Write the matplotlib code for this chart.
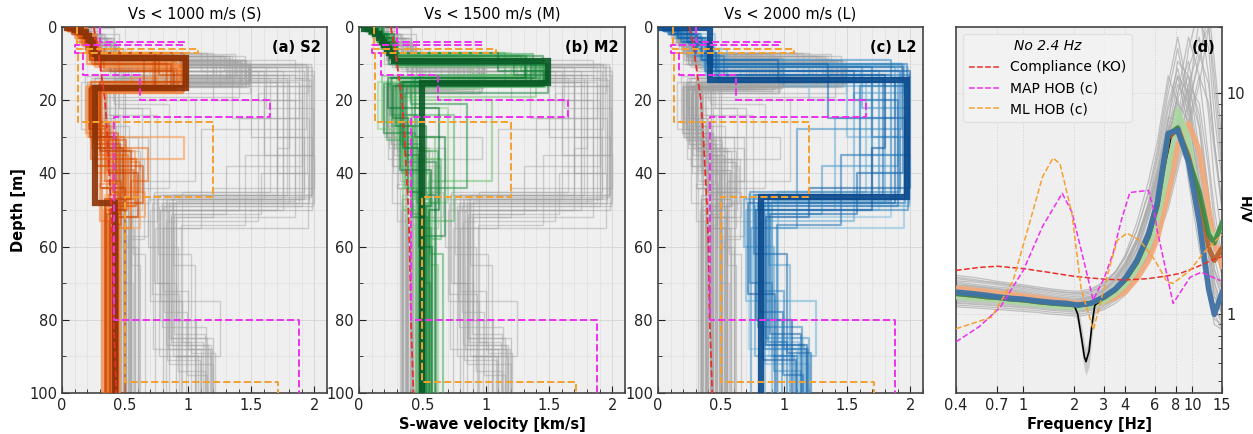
import numpy as np
import matplotlib
matplotlib.use("Agg")
import matplotlib.pyplot as plt
from matplotlib.ticker import MultipleLocator, FixedLocator, NullLocator, FixedFormatter, LogLocator, NullFormatter

# ---------------- DATA ----------------
# Vs profiles: layer top depths [m] and Vs [km/s] (last layer extends to 100 m)
S_best_tops = [0, 0.3, 0.8, 1.5, 2.5, 3.5, 4.5, 5.5, 6.5, 7.5, 8.5, 16.7, 48]
S_best_vs = [0.04, 0.10, 0.15, 0.19, 0.21, 0.23, 0.245, 0.255, 0.265, 0.275, 0.98, 0.26, 0.42]
S_tops = [
    [0, 2, 5, 9, 16, 32, 47], [0, 3, 7, 15, 28, 40, 52], [0, 1, 4, 10, 17, 35, 46],
    [0, 2, 6, 11, 16, 30, 44, 55], [0, 4, 8, 17, 33, 48], [0, 2, 7, 12, 18, 38, 50],
    [0, 3, 9, 15, 25, 42], [0, 1, 5, 10.5, 16, 30, 36, 47], [0, 2, 8, 14, 17, 26, 45, 52],
    [0, 3, 6, 9.5, 17.5, 34, 49], [0, 2, 5, 11, 16.5, 29, 40, 50], [0, 4, 9, 17, 37, 45],
    [0, 1, 3, 8, 16, 31, 43, 53], [0, 2, 7.5, 15.5, 27, 48], [0, 3, 10, 17, 33, 42, 55],
    [0, 2, 6, 12, 18, 35, 50], [0, 1, 4, 9, 17, 28, 39, 47], [0, 3, 8.5, 16, 30, 44],
    [0, 2, 7, 16, 29, 46], [0, 1, 5, 10, 17, 31, 50], [0, 3, 8, 15, 36, 49],
    [0, 2, 6, 11.5, 17, 27, 42, 54], [0, 4, 9, 16, 30, 45], [0, 1, 3, 7, 17.5, 38, 48],
    [0, 2, 8, 13, 16, 32, 51], [0, 3, 10, 17, 28, 44], [0, 2, 5, 9, 15, 34, 47],
    [0, 1, 6, 12, 16, 26, 40, 52], [0, 3, 7, 17, 33, 50], [0, 2, 9, 16.5, 30, 43]]
S_vs = [
    [0.10, 0.18, 0.24, 0.85, 0.25, 0.42, 0.36], [0.12, 0.20, 0.92, 0.22, 0.35, 0.55, 0.40],
    [0.06, 0.15, 0.22, 0.78, 0.28, 0.48, 0.34], [0.14, 0.22, 0.30, 0.98, 0.20, 0.30, 0.62, 0.42],
    [0.16, 0.26, 0.70, 0.30, 0.52, 0.45], [0.08, 0.19, 0.60, 0.95, 0.26, 0.40, 0.38],
    [0.18, 0.24, 0.88, 0.24, 0.32, 0.44], [0.05, 0.14, 0.25, 0.95, 0.21, 0.97, 0.36, 0.34],
    [0.11, 0.23, 0.80, 0.55, 0.28, 0.40, 0.66, 0.38], [0.15, 0.21, 0.28, 0.90, 0.32, 0.58, 0.41],
    [0.09, 0.17, 0.26, 0.99, 0.19, 0.27, 0.50, 0.33], [0.20, 0.30, 0.75, 0.35, 0.62, 0.46],
    [0.07, 0.16, 0.23, 0.97, 0.25, 0.45, 0.30, 0.37], [0.13, 0.25, 0.82, 0.29, 0.38, 0.43],
    [0.10, 0.20, 0.93, 0.24, 0.68, 0.55, 0.39], [0.17, 0.27, 0.45, 0.96, 0.30, 0.52, 0.35],
    [0.04, 0.12, 0.21, 0.72, 0.23, 0.36, 0.57, 0.40], [0.14, 0.22, 0.99, 0.26, 0.49, 0.32],
    [0.11, 0.21, 0.88, 0.27, 0.44, 0.37], [0.06, 0.16, 0.24, 0.83, 0.29, 0.51, 0.43],
    [0.16, 0.24, 0.94, 0.23, 0.59, 0.35], [0.12, 0.20, 0.33, 0.91, 0.22, 0.34, 0.47, 0.39],
    [0.19, 0.28, 0.65, 0.31, 0.40, 0.44], [0.05, 0.13, 0.22, 0.97, 0.27, 0.64, 0.41],
    [0.10, 0.23, 0.77, 0.99, 0.25, 0.46, 0.36], [0.14, 0.26, 0.86, 0.21, 0.31, 0.50],
    [0.08, 0.18, 0.27, 0.99, 0.30, 0.55, 0.34], [0.07, 0.19, 0.31, 0.89, 0.24, 0.37, 0.60, 0.44],
    [0.17, 0.25, 0.74, 0.28, 0.48, 0.38], [0.13, 0.22, 0.96, 0.22, 0.43, 0.42]]

M_best_tops = [0, 0.5, 1, 2, 3, 4, 5, 6, 7, 8, 9.3, 15.3]
M_best_vs = [0.04, 0.10, 0.13, 0.16, 0.18, 0.20, 0.22, 0.24, 0.26, 0.28, 1.49, 0.50]
M_tops = [
    [0, 2, 6, 9, 14, 30, 50], [0, 3, 8, 15, 25, 45], [0, 1, 5, 10, 16, 35, 60],
    [0, 2, 7, 13, 17, 40], [0, 4, 9.5, 15, 28, 55], [0, 2, 6, 8, 16, 22, 48],
    [0, 3, 10, 14.5, 33, 65], [0, 1, 4, 7.5, 13, 19, 38, 52], [0, 2, 8, 16, 30, 45],
    [0, 3, 9, 15.5, 20, 42], [0, 2, 5, 10, 13.5, 26, 50], [0, 4, 8.5, 14, 36, 58],
    [0, 1, 6, 11, 16.5, 29, 47], [0, 2, 7, 15, 24, 53], [0, 3, 9, 16, 31, 44],
    [0, 2, 8, 12, 15, 40, 62], [0, 1, 5, 9, 14, 27, 51], [0, 3, 7.5, 13, 34, 48],
    [0, 2, 7, 10, 15, 32, 55], [0, 3, 9, 14, 24, 48], [0, 1, 6, 9.5, 16, 37],
    [0, 2, 8, 15, 21, 44, 70], [0, 4, 10, 15.5, 29, 52], [0, 2, 5, 9, 13, 18, 35],
    [0, 3, 8, 16, 27, 46], [0, 1, 4, 10, 14, 30, 57], [0, 2, 9, 15, 39, 49],
    [0, 3, 7, 12, 16, 25, 45], [0, 2, 6, 10.5, 15, 33, 60], [0, 4, 9, 14, 22, 50]]
M_vs = [
    [0.10, 0.20, 0.28, 1.45, 0.30, 0.45, 0.55], [0.12, 0.25, 1.30, 0.20, 0.40, 0.50],
    [0.06, 0.16, 0.27, 1.48, 0.35, 0.52, 0.60], [0.15, 0.24, 1.20, 0.95, 0.42, 0.48],
    [0.18, 0.30, 1.42, 0.15, 0.38, 0.53], [0.08, 0.18, 0.26, 1.35, 0.45, 0.70, 0.47],
    [0.14, 0.27, 1.49, 0.30, 0.55, 0.62], [0.05, 0.14, 0.22, 0.90, 1.40, 0.33, 0.50, 0.45],
    [0.11, 0.23, 1.25, 0.28, 0.60, 0.50], [0.16, 0.29, 1.46, 0.40, 1.05, 0.55],
    [0.09, 0.19, 0.28, 1.38, 0.18, 0.35, 0.48], [0.20, 0.31, 1.33, 0.42, 0.65, 0.52],
    [0.07, 0.17, 0.29, 1.47, 0.31, 0.44, 0.58], [0.13, 0.26, 1.15, 0.37, 0.75, 0.51],
    [0.17, 0.28, 1.41, 0.22, 0.36, 0.46], [0.10, 0.24, 1.28, 1.49, 0.34, 0.56, 0.66],
    [0.06, 0.18, 0.30, 1.44, 0.26, 0.43, 0.50], [0.15, 0.27, 1.37, 0.48, 0.62, 0.54],
    [0.09, 0.21, 0.29, 1.47, 0.33, 0.50, 0.57], [0.15, 0.26, 1.39, 0.25, 0.46, 0.52],
    [0.05, 0.19, 0.27, 1.43, 0.38, 0.61], [0.12, 0.24, 1.32, 0.41, 0.85, 0.49, 0.56],
    [0.19, 0.30, 1.48, 0.20, 0.42, 0.54], [0.08, 0.17, 0.26, 1.22, 1.49, 0.36, 0.47],
    [0.14, 0.25, 1.45, 0.29, 0.53, 0.60], [0.06, 0.15, 0.24, 1.40, 0.44, 0.68, 0.51],
    [0.11, 0.28, 1.36, 0.32, 0.57, 0.53], [0.16, 0.27, 1.10, 1.46, 0.27, 0.39, 0.49],
    [0.10, 0.22, 0.30, 1.49, 0.35, 0.47, 0.58], [0.18, 0.29, 1.31, 0.23, 0.63, 0.55]]

L_best_tops = [0, 0.3, 14.5, 46.5]
L_best_vs = [0.02, 0.41, 1.97, 0.82]
L_tops = [
    [0, 3, 10, 47, 85], [0, 2, 8, 15, 50, 75], [0, 4, 12, 35, 48, 90],
    [0, 1, 5, 11, 46, 88], [0, 3, 9, 20, 52, 80], [0, 2, 13, 40, 55],
    [0, 5, 10, 30, 47, 70, 92], [0, 2, 7, 14, 45, 86], [0, 3, 11, 25, 50, 75, 90],
    [0, 1, 6, 15, 48], [0, 4, 10.5, 18, 53, 87], [0, 2, 9, 16, 46, 65],
    [0, 3, 12, 47, 60, 94], [0, 2, 8, 14, 38, 51, 85], [0, 5, 11, 22, 49, 90],
    [0, 1, 4, 13, 47.5, 80], [0, 3, 10, 28, 55], [0, 2, 7, 15, 46, 72, 88],
    [0, 2, 9, 14, 48, 82], [0, 3, 11, 30, 50, 88], [0, 1, 5, 12, 45, 70, 90],
    [0, 4, 10, 16, 47, 86], [0, 2, 8, 13, 35, 54], [0, 3, 12, 20, 49, 78, 95],
    [0, 2, 6, 14, 46, 62, 89], [0, 5, 11, 40, 51, 84], [0, 1, 4, 10, 25, 47, 91],
    [0, 3, 9, 15, 48, 73], [0, 2, 7, 12, 44, 52, 87], [0, 4, 13, 33, 50, 80]]
L_vs = [
    [0.15, 0.35, 1.90, 0.85, 1.15], [0.10, 0.28, 0.42, 1.75, 0.78, 0.95],
    [0.20, 0.38, 1.60, 2.00, 0.88, 1.18], [0.05, 0.22, 0.44, 1.98, 0.72, 1.10],
    [0.18, 0.30, 1.20, 1.85, 0.90, 1.05], [0.12, 0.45, 1.70, 1.95, 0.80],
    [0.25, 0.40, 1.50, 1.92, 0.75, 0.85, 1.20], [0.08, 0.26, 0.50, 1.65, 0.95, 1.12],
    [0.14, 0.36, 1.88, 1.40, 0.70, 1.25, 0.90], [0.06, 0.30, 0.55, 1.80, 0.85],
    [0.22, 0.42, 1.95, 1.55, 0.82, 1.16], [0.10, 0.33, 1.00, 1.97, 0.88, 1.05],
    [0.16, 0.39, 1.75, 0.68, 0.92, 1.13], [0.11, 0.27, 0.45, 1.90, 1.30, 0.86, 1.20],
    [0.28, 0.43, 1.62, 1.99, 0.77, 1.08], [0.04, 0.20, 0.38, 1.85, 0.90, 0.98],
    [0.19, 0.41, 1.93, 1.10, 0.74], [0.09, 0.31, 0.47, 1.70, 0.80, 1.00, 1.17],
    [0.12, 0.34, 1.85, 1.96, 0.79, 1.14], [0.17, 0.40, 1.70, 1.98, 0.84, 1.19],
    [0.06, 0.25, 0.43, 1.92, 0.73, 0.90, 1.10], [0.21, 0.39, 1.97, 1.60, 0.87, 1.02],
    [0.09, 0.29, 0.52, 1.99, 1.45, 0.94], [0.15, 0.37, 1.55, 1.90, 0.81, 0.99, 1.15],
    [0.10, 0.32, 0.48, 1.78, 0.76, 1.02, 1.21], [0.26, 0.44, 1.94, 1.58, 0.89, 1.13],
    [0.05, 0.18, 0.40, 1.35, 1.96, 0.83, 1.09], [0.16, 0.35, 0.95, 1.88, 0.71, 0.93],
    [0.11, 0.30, 0.46, 2.00, 1.20, 0.86, 1.18], [0.23, 0.42, 1.80, 1.70, 0.78, 1.06]]

# reference profiles (dashed)
KO_depth = [0, 5, 10, 15, 20, 30, 40, 50, 60, 80, 100]
KO_vs = [0.25, 0.28, 0.30, 0.32, 0.34, 0.36, 0.375, 0.39, 0.40, 0.41, 0.43]
MAP_tops = [0, 4, 5, 7, 13, 20, 24.5, 80]
MAP_vs = [0.30, 0.97, 0.10, 0.17, 0.62, 1.65, 0.41, 1.88]
ML_tops = [0, 6, 7, 26, 46.5, 97]
ML_vs = [0.12, 1.08, 0.13, 1.20, 0.50, 1.71]

# H/V curves
freq = [0.4, 0.5, 0.6, 0.7, 0.85, 1.0, 1.2, 1.5, 1.8, 2.1, 2.5, 3.0, 3.5, 4.0, 4.7, 5.5, 6.2, 7.2, 8.2, 9.5, 11, 12.5, 13.5, 15]
hv_gray = [
    [1.30, 1.28, 1.26, 1.24, 1.22, 1.20, 1.18, 1.16, 1.14, 1.13, 1.15, 1.22, 1.33, 1.50, 1.85, 2.5, 3.4, 5.5, 8.0, 6.5, 3.5, 1.8, 1.2, 1.1],
    [1.15, 1.13, 1.12, 1.11, 1.10, 1.09, 1.08, 1.06, 1.05, 1.04, 1.06, 1.12, 1.22, 1.36, 1.65, 2.1, 2.7, 4.0, 6.2, 10.5, 7.0, 3.5, 2.2, 1.5],
    [1.45, 1.42, 1.40, 1.38, 1.35, 1.33, 1.30, 1.27, 1.25, 1.24, 1.26, 1.35, 1.50, 1.72, 2.2, 3.2, 4.6, 8.5, 12.0, 7.0, 3.0, 1.6, 1.1, 0.9],
    [1.20, 1.18, 1.17, 1.16, 1.14, 1.12, 1.10, 1.08, 1.07, 1.06, 1.07, 1.12, 1.20, 1.30, 1.50, 1.85, 2.3, 3.2, 4.8, 7.5, 12.0, 9.0, 5.5, 3.0],
    [1.35, 1.33, 1.31, 1.29, 1.27, 1.25, 1.22, 1.19, 1.17, 1.16, 1.19, 1.28, 1.42, 1.65, 2.1, 3.0, 4.2, 7.0, 9.5, 5.5, 2.6, 1.4, 1.0, 0.85],
    [1.10, 1.09, 1.08, 1.07, 1.06, 1.05, 1.04, 1.02, 1.01, 1.00, 1.02, 1.07, 1.15, 1.26, 1.48, 1.85, 2.3, 3.3, 5.0, 8.5, 15.0, 11.0, 6.0, 3.2],
    [1.25, 1.23, 1.21, 1.20, 1.18, 1.16, 1.14, 1.12, 1.10, 1.09, 1.12, 1.20, 1.32, 1.52, 1.95, 2.8, 3.9, 6.8, 11.0, 9.0, 4.5, 2.2, 1.5, 1.2],
    [1.40, 1.37, 1.35, 1.33, 1.31, 1.29, 1.26, 1.23, 1.21, 1.20, 1.23, 1.32, 1.47, 1.70, 2.2, 3.1, 4.3, 7.5, 14.0, 12.0, 5.5, 2.5, 1.6, 1.3],
    [1.18, 1.16, 1.15, 1.14, 1.13, 1.11, 1.09, 1.07, 1.06, 1.05, 1.08, 1.15, 1.25, 1.40, 1.70, 2.2, 2.9, 4.4, 7.0, 13.0, 18.0, 8.0, 4.0, 2.2],
    [1.28, 1.26, 1.24, 1.23, 1.21, 1.19, 1.17, 1.15, 1.13, 1.12, 1.14, 1.22, 1.34, 1.55, 1.98, 2.9, 4.0, 6.5, 9.0, 7.5, 4.0, 2.0, 1.4, 1.0],
    [1.12, 1.11, 1.10, 1.09, 1.08, 1.07, 1.06, 1.04, 1.03, 1.02, 1.04, 1.09, 1.17, 1.29, 1.52, 1.9, 2.4, 3.5, 5.5, 9.5, 22.0, 16.0, 8.0, 4.0],
    [1.50, 1.47, 1.44, 1.41, 1.38, 1.36, 1.33, 1.30, 1.28, 1.27, 1.30, 1.40, 1.56, 1.80, 2.4, 3.5, 5.2, 10.0, 16.0, 9.0, 3.5, 1.8, 1.2, 1.0],
    [1.22, 1.20, 1.19, 1.18, 1.16, 1.14, 1.12, 1.10, 1.08, 1.07, 1.10, 1.17, 1.28, 1.45, 1.80, 2.4, 3.2, 5.0, 7.5, 11.0, 9.0, 4.5, 2.6, 1.7],
    [1.32, 1.30, 1.28, 1.26, 1.24, 1.22, 1.20, 1.17, 1.15, 1.14, 1.17, 1.25, 1.38, 1.60, 2.0, 2.8, 3.8, 6.0, 10.0, 14.0, 7.0, 3.0, 1.8, 1.3],
    [1.08, 1.07, 1.06, 1.05, 1.04, 1.03, 1.02, 1.00, 0.99, 0.98, 1.00, 1.05, 1.12, 1.22, 1.42, 1.75, 2.2, 3.0, 4.5, 7.0, 11.0, 20.0, 12.0, 5.0],
    [1.38, 1.35, 1.33, 1.31, 1.29, 1.27, 1.24, 1.21, 1.19, 1.18, 1.21, 1.30, 1.45, 1.68, 2.15, 3.0, 4.1, 6.8, 8.5, 6.0, 3.0, 1.5, 1.05, 0.95],
    [1.26, 1.24, 1.22, 1.21, 1.19, 1.17, 1.15, 1.13, 1.11, 1.10, 1.13, 1.21, 1.35, 1.58, 2.1, 3.2, 5.0, 9.0, 13.0, 8.0, 3.8, 2.0, 1.4, 1.1],
    [1.16, 1.15, 1.14, 1.13, 1.11, 1.10, 1.09, 1.07, 1.06, 1.05, 1.07, 1.13, 1.23, 1.38, 1.68, 2.2, 2.9, 4.5, 7.5, 16.0, 24.0, 12.0, 6.0, 3.0],
    [1.42, 1.40, 1.38, 1.36, 1.33, 1.31, 1.28, 1.25, 1.23, 1.22, 1.25, 1.36, 1.55, 1.85, 2.6, 4.0, 6.0, 12.0, 9.0, 4.0, 2.0, 1.2, 0.9, 0.85],
    [1.20, 1.19, 1.18, 1.17, 1.15, 1.13, 1.11, 1.09, 1.08, 1.07, 1.09, 1.16, 1.27, 1.44, 1.80, 2.5, 3.5, 6.0, 10.0, 18.0, 12.0, 5.0, 3.0, 1.8],
    [1.33, 1.31, 1.29, 1.27, 1.25, 1.23, 1.21, 1.18, 1.16, 1.15, 1.18, 1.27, 1.41, 1.64, 2.1, 3.0, 4.3, 7.5, 12.0, 10.0, 5.0, 2.3, 1.6, 1.2],
    [1.13, 1.12, 1.11, 1.10, 1.09, 1.08, 1.07, 1.05, 1.04, 1.03, 1.05, 1.10, 1.18, 1.31, 1.58, 2.0, 2.6, 3.8, 6.0, 9.0, 14.0, 24.0, 14.0, 6.0],
    [1.47, 1.44, 1.41, 1.39, 1.36, 1.34, 1.31, 1.28, 1.26, 1.25, 1.28, 1.38, 1.54, 1.80, 2.4, 3.6, 5.5, 11.0, 18.0, 10.0, 4.0, 1.9, 1.3, 1.0],
    [1.24, 1.22, 1.21, 1.19, 1.17, 1.15, 1.13, 1.11, 1.09, 1.08, 1.11, 1.19, 1.30, 1.48, 1.88, 2.7, 3.7, 6.2, 9.5, 12.0, 8.0, 3.5, 2.1, 1.5],
    [1.36, 1.34, 1.32, 1.30, 1.28, 1.26, 1.23, 1.20, 1.18, 1.17, 1.20, 1.29, 1.43, 1.66, 2.15, 3.1, 4.4, 7.8, 7.5, 5.0, 2.6, 1.3, 0.95, 0.9],
    [1.18, 1.17, 1.16, 1.15, 1.13, 1.12, 1.10, 1.08, 1.07, 1.06, 1.08, 1.14, 1.23, 1.37, 1.66, 2.15, 2.8, 4.2, 6.8, 11.0, 16.0, 20.0, 10.0, 4.5]]
hv_lightorange = [1.31, 1.29, 1.27, 1.25, 1.23, 1.21, 1.19, 1.16, 1.14, 1.12, 1.12, 1.14, 1.19, 1.26, 1.45, 1.75, 2.2, 3.5, 5.8, 7.3, 5.5, 3.0, 2.1, 1.65]
hv_lightgreen = [1.20, 1.18, 1.17, 1.16, 1.14, 1.13, 1.11, 1.09, 1.08, 1.07, 1.09, 1.15, 1.24, 1.36, 1.62, 2.05, 2.7, 4.5, 8.4, 6.2, 3.3, 2.4, 2.2, 2.5]
hv_brown = [1.24, 1.22, 1.20, 1.19, 1.17, 1.16, 1.14, 1.12, 1.11, 1.10, 1.12, 1.19, 1.29, 1.43, 1.72, 2.25, 3.1, 6.3, 6.9, 5.2, 3.3, 2.0, 1.75, 2.0]
hv_darkgreen = [1.24, 1.22, 1.20, 1.19, 1.17, 1.16, 1.14, 1.12, 1.11, 1.10, 1.12, 1.19, 1.29, 1.43, 1.72, 2.25, 3.1, 6.5, 7.0, 5.0, 3.6, 2.3, 2.1, 2.6]
hv_blue = [1.26, 1.24, 1.22, 1.20, 1.18, 1.17, 1.15, 1.13, 1.12, 1.10, 1.12, 1.20, 1.30, 1.45, 1.75, 2.3, 3.2, 6.6, 6.8, 4.9, 2.6, 1.3, 1.0, 1.25]

obs_freq = [0.4, 0.5, 0.7, 1.0, 1.5, 2.0, 2.1, 2.2, 2.3, 2.35, 2.45, 2.55, 2.65, 3.0, 4.0, 5.0, 6.0, 7.0, 7.5, 8.0, 9.0, 10.0]
obs_hv = [1.24, 1.22, 1.19, 1.17, 1.13, 1.10, 1.00, 0.80, 0.64, 0.61, 0.68, 0.90, 1.10, 1.18, 1.45, 1.95, 2.9, 5.0, 6.4, 6.8, 5.6, 4.3]
obs_lo = [1.14, 1.12, 1.10, 1.08, 1.05, 1.02, 0.90, 0.70, 0.56, 0.53, 0.58, 0.78, 1.00, 1.09, 1.34, 1.80, 2.6, 4.4, 5.6, 6.0, 5.0, 3.8]
obs_hi = [1.34, 1.32, 1.29, 1.27, 1.22, 1.19, 1.10, 0.92, 0.74, 0.70, 0.78, 1.02, 1.20, 1.28, 1.57, 2.10, 3.2, 5.6, 7.2, 7.6, 6.3, 4.8]

ko_freq = [0.4, 0.55, 0.7, 1.0, 1.4, 1.94, 2.5, 3.1, 4.0, 5.5, 7.0, 8.45, 10.5, 13.3, 15]
ko_hv = [1.58, 1.63, 1.65, 1.61, 1.55, 1.49, 1.46, 1.44, 1.43, 1.45, 1.49, 1.53, 1.63, 1.77, 1.82]
map_freq = [0.4, 0.55, 0.73, 1.0, 1.3, 1.7, 1.94, 2.3, 2.59, 3.0, 3.4, 3.8, 4.27, 5.5, 6.0, 6.2, 7.7, 9.7, 11.3, 14.7]
map_hv = [0.75, 0.88, 1.075, 1.58, 2.5, 3.53, 2.9, 1.7, 1.16, 1.45, 1.89, 2.66, 3.56, 3.64, 2.86, 2.4, 1.12, 1.47, 1.55, 1.42]
ml_freq = [0.4, 0.65, 0.87, 1.1, 1.3, 1.5, 1.65, 1.94, 2.2, 2.6, 3.2, 3.6, 4.1, 4.9, 6.0, 7.1, 7.7, 9.7, 11.6, 15]
ml_hv = [0.86, 0.97, 1.42, 2.66, 4.2, 5.1, 4.8, 2.86, 1.3, 0.85, 1.58, 2.16, 2.33, 2.16, 1.76, 1.40, 1.38, 1.58, 1.89, 2.3]

panel_titles = ["Vs < 1000 m/s (S)", "Vs < 1500 m/s (M)", "Vs < 2000 m/s (L)"]
panel_labels = ["(a) S2", "(b) M2", "(c) L2", "(d)"]
freq_ticks = [0.4, 0.7, 1, 2, 3, 4, 6, 8, 10, 15]
freq_ticklabels = ["0.4", "0.7", "1", "2", "3", "4", "6", "8", "10", "15"]

# ---------------- PLOT ----------------
plt.rcParams['font.family'] = ['DejaVu Sans']
plt.rcParams['font.size'] = 10

fig = plt.figure(figsize=(12.53, 4.34), dpi=100)
bot, hgt = 0.0945, 0.8433
axs = [fig.add_axes([0.0495, bot, 0.2115, hgt]),
       fig.add_axes([0.2865, bot, 0.2123, hgt]),
       fig.add_axes([0.5251, bot, 0.2115, hgt])]
axd = fig.add_axes([0.763, bot, 0.2123, hgt])

BG = '#efefef'


def prof_xy(tops, vs, zmax=100):
    xs, ys = [], []
    for i, v in enumerate(vs):
        z0 = tops[i]
        z1 = tops[i + 1] if i + 1 < len(tops) else zmax
        xs += [v, v]
        ys += [z0, z1]
    return xs, ys


classes = {
    'S': (S_tops, S_vs, S_best_tops, S_best_vs, plt.cm.Oranges, '#8a3206'),
    'M': (M_tops, M_vs, M_best_tops, M_best_vs, plt.cm.Greens, '#0a5a25'),
    'L': (L_tops, L_vs, L_best_tops, L_best_vs, plt.cm.Blues, '#0b4a8c'),
}
order = ['S', 'M', 'L']

for k, ax in enumerate(axs):
    ax.set_facecolor(BG)
    me = order[k]
    # gray: other classes
    for other in order:
        if other == me:
            continue
        tl, vl, bt, bv, _, _ = classes[other]
        for t, v in zip(tl, vl):
            x, y = prof_xy(t, v)
            ax.plot(x, y, color='#a0a0a0', lw=1.0, alpha=0.45, zorder=2)
        x, y = prof_xy(bt, bv)
        ax.plot(x, y, color='#a0a0a0', lw=1.0, alpha=0.45, zorder=2)
    tl, vl, bt, bv, cmap, bestc = classes[me]
    n = len(tl)
    for i, (t, v) in enumerate(zip(tl, vl)):
        x, y = prof_xy(t, v)
        ax.plot(x, y, color=cmap(0.35 + 0.5 * i / (n - 1)), lw=1.6, alpha=0.55, zorder=3)
    x, y = prof_xy(bt, bv)
    ax.plot(x, y, color=bestc, lw=4.5, alpha=0.9, zorder=4, solid_joinstyle='miter')
    # reference dashed profiles
    ax.plot(KO_vs, KO_depth, color='#e8302a', ls='--', lw=1.3, zorder=5)
    x, y = prof_xy(ML_tops, ML_vs)
    ax.plot(x, y, color='#f5a030', ls='--', lw=1.4, zorder=5)
    x, y = prof_xy(MAP_tops, MAP_vs)
    ax.plot(x, y, color='#ee30ee', ls='--', lw=1.4, zorder=6)

    ax.set_xlim(0, 2.1)
    ax.set_ylim(100, 0)
    ax.xaxis.set_major_locator(FixedLocator([0, 0.5, 1, 1.5, 2]))
    ax.xaxis.set_major_formatter(FixedFormatter(["0", "0.5", "1", "1.5", "2"]))
    ax.xaxis.set_minor_locator(MultipleLocator(0.1))
    ax.yaxis.set_major_locator(MultipleLocator(20))
    ax.yaxis.set_minor_locator(MultipleLocator(10))
    ax.tick_params(which='both', direction='in', top=False, right=False, labelsize=10.5, colors='#222222')
    ax.tick_params(which='major', length=5)
    ax.tick_params(which='minor', length=3)
    ax.grid(True, which='major', color='#d4d4d4', lw=0.6, zorder=0)
    ax.grid(True, which='minor', color='#e0e0e0', lw=0.5, zorder=0)
    ax.set_axisbelow(True)
    for s in ax.spines.values():
        s.set_color('#444444')
        s.set_linewidth(1.2)
    ax.set_title(panel_titles[k], fontsize=10.5, pad=6)
    ax.text(0.975, 0.965, panel_labels[k], transform=ax.transAxes, ha='right', va='top',
            fontsize=10.5, fontweight='bold', zorder=10)

axs[0].set_ylabel("Depth [m]", fontweight='bold', fontsize=10.5, labelpad=2)
axs[1].set_xlabel("S-wave velocity [km/s]", fontweight='bold', fontsize=10.5, labelpad=3)

# ---- panel d ----
axd.set_facecolor(BG)
for c in hv_gray:
    axd.plot(freq, c, color='#ababab', lw=0.9, alpha=0.7, zorder=2)
axd.fill_between(obs_freq, obs_lo, obs_hi, color='#c4c4c4', alpha=0.8, lw=0, zorder=2.5)
axd.plot(freq, hv_lightorange, color='#f4a878', lw=4, alpha=0.9, zorder=3)
axd.plot(freq, hv_lightgreen, color='#a9d9a0', lw=4, alpha=0.9, zorder=3)
axd.plot(obs_freq, obs_hv, color='black', lw=1.2, zorder=3.5)
axd.plot(freq, hv_brown, color='#b8602a', lw=3.5, alpha=0.9, zorder=4)
axd.plot(freq, hv_darkgreen, color='#3a8a46', lw=3.5, alpha=0.9, zorder=4)
axd.plot(freq, hv_blue, color='#3f73a6', lw=4, alpha=0.95, zorder=4.5)
l1, = axd.plot(ko_freq, ko_hv, color='#e8302a', ls='--', lw=1.1, zorder=5, label='Compliance (KO)')
l2, = axd.plot(map_freq, map_hv, color='#ee30ee', ls='--', lw=1.1, zorder=5, label='MAP HOB (c)')
l3, = axd.plot(ml_freq, ml_hv, color='#f5a030', ls='--', lw=1.1, zorder=5, label='ML HOB (c)')

axd.set_xscale('log')
axd.set_yscale('log')
axd.set_xlim(0.4, 15)
axd.set_ylim(0.44, 20)
axd.xaxis.set_major_locator(FixedLocator(freq_ticks))
axd.xaxis.set_major_formatter(FixedFormatter(freq_ticklabels))
axd.xaxis.set_minor_locator(NullLocator())
axd.yaxis.set_major_locator(FixedLocator([1, 10]))
axd.yaxis.set_major_formatter(FixedFormatter(["1", "10"]))
axd.yaxis.set_minor_locator(LogLocator(base=10, subs=np.arange(2, 10)))
axd.yaxis.set_minor_formatter(NullFormatter())
axd.yaxis.tick_right()
axd.yaxis.set_label_position('right')
axd.tick_params(which='both', direction='in', labelsize=10.5, colors='#222222')
axd.tick_params(which='major', length=5)
axd.tick_params(which='minor', length=3)
axd.grid(True, which='major', color='#d0d0d0', lw=0.7, ls=':', zorder=0)
axd.set_axisbelow(True)
for s in axd.spines.values():
    s.set_color('#444444')
    s.set_linewidth(1.2)
axd.set_xlabel("Frequency [Hz]", fontweight='bold', fontsize=10.5, labelpad=3)
axd.set_ylabel("H/V", fontweight='bold', fontsize=10, rotation=270, va='center', ha='center')
axd.yaxis.set_label_coords(1.085, 0.5)
axd.text(0.975, 0.965, panel_labels[3], transform=axd.transAxes, ha='right', va='top',
         fontsize=10.5, fontweight='bold', zorder=10)
leg = axd.legend(handles=[l1, l2, l3], loc='upper left', fontsize=10, title='No 2.4 Hz',
                 title_fontproperties={'style': 'italic', 'size': 10}, framealpha=0.8,
                 facecolor='#f4f4f4', edgecolor='#dddddd', handlelength=2.2, borderaxespad=0.5)
leg.set_zorder(20)

fig.savefig("out.png", dpi=100)
